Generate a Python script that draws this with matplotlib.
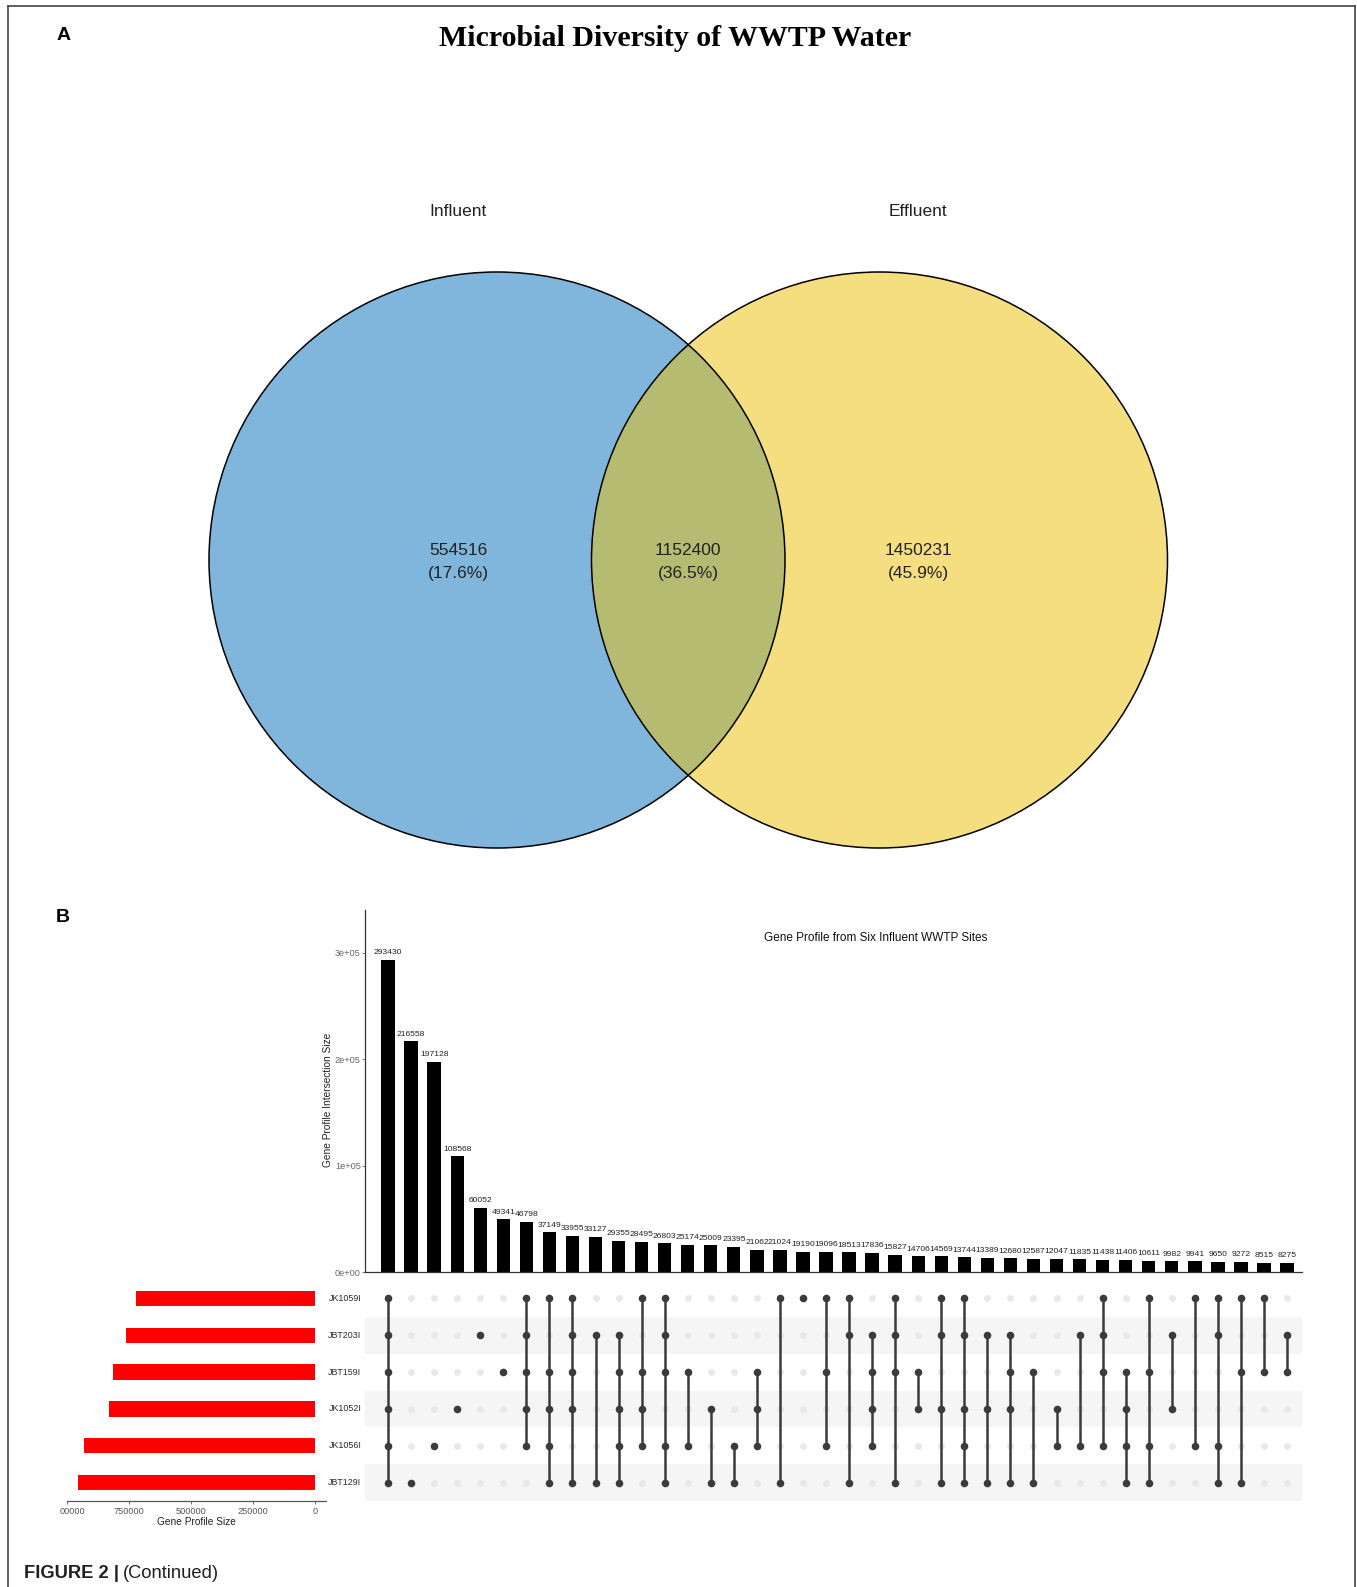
import matplotlib
matplotlib.use("Agg")
import matplotlib.pyplot as plt
from matplotlib.patches import Circle
from matplotlib.transforms import blended_transform_factory

plt.rcParams["font.family"] = ["Liberation Sans", "DejaVu Sans"]

# ---- data ----
venn_labels = ["Influent", "Effluent"]
venn_counts = [554516, 1152400, 1450231]  # influent only, shared, effluent only
venn_pcts = ["17.6%", "36.5%", "45.9%"]

set_names = ["JK1059I", "JBT203I", "JBT159I", "JK1052I", "JK1056I", "JBT129I"]
set_sizes = [724000, 762000, 815000, 832000, 932000, 958000]

inter_sizes = [293430, 216558, 197128, 108568, 60052, 49341, 46798, 37149,
               33955, 33127, 29355, 28495, 26803, 25174, 25009, 23395,
               21062, 21024, 19190, 19096, 18513, 17836, 15827, 14706,
               14569, 13744, 13389, 12680, 12587, 12047, 11835, 11438,
               11406, 10611, 9982, 9941, 9650, 9272, 8515, 8275]

# row indices of set_names that belong to each intersection
inter_members = [
    [0, 1, 2, 3, 4, 5], [5], [4], [3], [1], [2],
    [0, 1, 2, 3, 4], [0, 2, 3, 4, 5], [0, 1, 2, 3, 5], [1, 5],
    [1, 2, 3, 4, 5], [0, 2, 3, 4], [0, 1, 2, 4, 5], [2, 4],
    [3, 5], [4, 5], [2, 3, 4], [0, 5], [0], [0, 2, 4],
    [0, 1, 5], [1, 2, 3, 4], [0, 1, 2, 5], [2, 3], [0, 1, 3, 5],
    [0, 1, 3, 4, 5], [1, 3, 5], [1, 2, 3, 5], [2, 5], [3, 4],
    [1, 4], [0, 1, 2, 4], [2, 3, 4, 5], [0, 2, 4, 5], [1, 3],
    [0, 4], [0, 1, 4, 5], [0, 2, 5], [0, 2], [1, 2],
]

size_ticks = [1000000, 750000, 500000, 250000, 0]
size_tick_labels = ["", "750000", "500000", "250000", "0"]
inter_ticks = [0, 100000, 200000, 300000]
inter_tick_labels = ["0e+00", "1e+05", "2e+05", "3e+05"]

W, H = 1357, 1587
fig = plt.figure(figsize=(W / 100, H / 100), dpi=100)


def px_axes(x0, y0, x1, y1):
    return fig.add_axes([x0 / W, 1 - y1 / H, (x1 - x0) / W, (y1 - y0) / H])


# ---- background / panel A ----
ax0 = fig.add_axes([0, 0, 1, 1])
ax0.set_xlim(0, W)
ax0.set_ylim(H, 0)
ax0.axis("off")

frame_kw = dict(color="#444444", lw=1.2)
ax0.plot([8, 8], [H, 6], **frame_kw)
ax0.plot([8, W - 2], [6, 6], **frame_kw)
ax0.plot([W - 2, W - 2], [6, H], **frame_kw)

left = Circle((497, 560), 288, facecolor="#80B6DC", edgecolor="none")
right = Circle((879.5, 560), 288, facecolor="#F5DE80", edgecolor="none")
ax0.add_patch(left)
ax0.add_patch(right)
overlap = Circle((879.5, 560), 288, facecolor="#B5BC72", edgecolor="none")
ax0.add_patch(overlap)
overlap.set_clip_path(left)
for c in [(497, 560), (879.5, 560)]:
    ax0.add_patch(Circle(c, 288, fill=False, edgecolor="black", lw=1.1))

ax0.text(675, 38, "Microbial Diversity of WWTP Water", family="Liberation Serif",
         weight="bold", fontsize=21.5, ha="center", va="center")
ax0.text(64, 35, "A", weight="bold", fontsize=14, ha="center", va="center")
ax0.text(63, 918, "B", weight="bold", fontsize=14, ha="center", va="center")

ax0.text(458, 212, venn_labels[0], fontsize=12.5, ha="center", va="center", color="#222222")
ax0.text(918, 212, venn_labels[1], fontsize=12.5, ha="center", va="center", color="#222222")
for x, n, p in zip([458, 688, 918], venn_counts, venn_pcts):
    ax0.text(x, 562, f"{n}\n({p})", fontsize=12.5, ha="center", va="center",
             linespacing=1.7, color="#222222")

ax0.text(24, 1573, "FIGURE 2 |", weight="bold", fontsize=13.2, ha="left", va="center",
         color="#231F20")
ax0.text(123, 1573, "(Continued)", fontsize=13.2, ha="left", va="center", color="#231F20")

# ---- panel B: intersection bars ----
n = len(inter_sizes)
xs = list(range(n))
xlim = (-1.0, n - 0.35)

ax_b = px_axes(365, 910, 1302, 1272)
ax_b.bar(xs, inter_sizes, width=0.58, color="black")
for x, v in zip(xs, inter_sizes):
    ax_b.text(x, v + 3500, str(v), fontsize=6.1, ha="center", va="bottom", color="#222222")
ax_b.set_xlim(*xlim)
ax_b.set_ylim(0, 340000)
ax_b.set_xticks([])
ax_b.set_yticks(inter_ticks)
ax_b.set_yticklabels(inter_tick_labels)
ax_b.tick_params(axis="y", labelsize=6.6, labelcolor="#666666", length=2,
                 width=0.6, color="#666666", pad=1)
for s in ["top", "right"]:
    ax_b.spines[s].set_visible(False)
for s in ["left", "bottom"]:
    ax_b.spines[s].set_color("#333333")
    ax_b.spines[s].set_linewidth(0.9)
ax_b.set_ylabel("Gene Profile Intersection Size", fontsize=7.3, color="#222222", labelpad=1)
ax_b.yaxis.set_label_coords(-0.034, 0.475)
ax_b.set_title("Gene Profile from Six Influent WWTP Sites", fontsize=8.5,
               x=0.545, y=0.89, color="#111111")

# ---- panel B: matrix ----
ax_m = px_axes(365, 1280, 1302, 1501)
ax_m.set_xlim(*xlim)
ax_m.set_ylim(len(set_names) - 0.5, -0.5)
for i in range(len(set_names)):
    if i % 2 == 1:
        ax_m.axhspan(i - 0.5, i + 0.5, color="#F5F5F5", zorder=0, lw=0)
for x in xs:
    ax_m.scatter([x] * len(set_names), range(len(set_names)), s=24,
                 color="#E8E8E8", zorder=1, lw=0)
for x, mem in zip(xs, inter_members):
    if len(mem) > 1:
        ax_m.plot([x, x], [min(mem), max(mem)], color="#3B3B3B", lw=1.8, zorder=2)
    ax_m.scatter([x] * len(mem), mem, s=30, color="#3B3B3B", zorder=3, lw=0)
ax_m.axis("off")
tr = blended_transform_factory(ax_m.transAxes, ax_m.transData)
for i, name in enumerate(set_names):
    ax_m.text(-0.004, i, name, transform=tr, fontsize=6.4, ha="right",
              va="center", color="#2A2A2A")

# ---- panel B: set size bars ----
ax_s = px_axes(66.7, 1280, 326, 1501)
ax_s.barh(range(len(set_names)), set_sizes, height=0.42, color="#FF0000")
ax_s.set_xlim(1002800, -44400)
ax_s.set_ylim(len(set_names) - 0.5, -0.5)
ax_s.set_yticks([])
ax_s.set_xticks(size_ticks)
ax_s.set_xticklabels(size_tick_labels)
ax_s.tick_params(axis="x", labelsize=6.6, labelcolor="#555555", length=2,
                 width=0.6, color="#555555", pad=2)
for s in ["top", "right", "left"]:
    ax_s.spines[s].set_visible(False)
ax_s.spines["bottom"].set_color("#555555")
ax_s.spines["bottom"].set_linewidth(0.9)
ax_s.set_xlabel("Gene Profile Size", fontsize=7.3, color="#222222", labelpad=1)
# the 1000000 label is cut at the panel edge in the original
ax0.text(72, 1511, "00000", fontsize=6.6, color="#555555", ha="center", va="center")

fig.savefig("out.png", dpi=100)
